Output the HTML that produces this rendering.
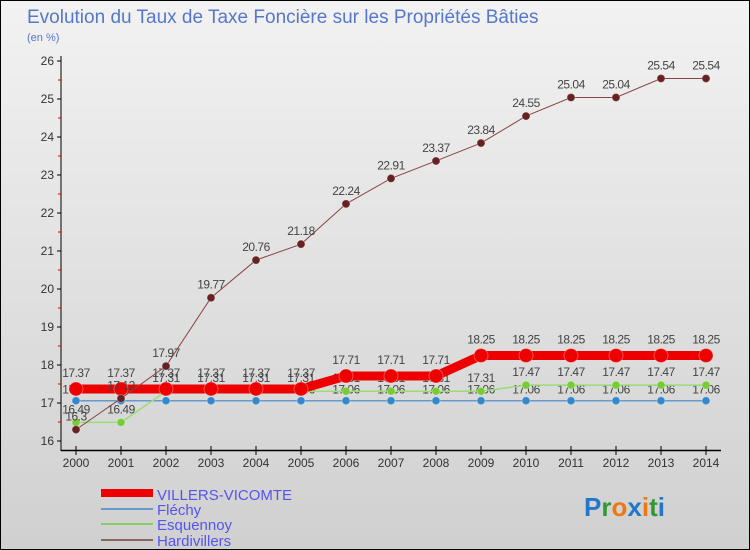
<!DOCTYPE html>
<html><head><meta charset="utf-8"><style>
body{margin:0}
#c{width:748px;height:548px;border:1px solid #000;position:relative;background:linear-gradient(#f2f2f2,#d0d0d0);font-family:"Liberation Sans",sans-serif;overflow:hidden}
svg{position:absolute;left:0;top:0}
</style></head><body>
<div id="c">
<svg id="s" width="750" height="550">
<text x="26" y="22" font-size="19" fill="#5577cc">Evolution du Taux de Taxe Foncière sur les Propriétés Bâties</text>
<text x="26" y="40" font-size="11" fill="#5577cc">(en %)</text>
<g id="ax"></g><g id="series"></g>
<g>
<rect x="100" y="488" width="52" height="8" fill="#e00"/>
<text x="156" y="499" font-size="15" fill="#5555ee">VILLERS-VICOMTE</text>
<rect x="100" y="507" width="52" height="2" fill="#6699cc"/>
<text x="156" y="514" font-size="15" fill="#5555ee">Fléchy</text>
<rect x="100" y="522" width="52" height="2" fill="#88cc66"/>
<text x="156" y="529" font-size="15" fill="#5555ee">Esquennoy</text>
<rect x="100" y="538" width="52" height="2" fill="#886666"/>
<text x="156" y="545" font-size="15" fill="#5555ee">Hardivillers</text>
</g>
<text x="583" y="515" font-size="26" font-weight="bold"><tspan fill="#2277cc">P</tspan><tspan fill="#339933">r</tspan><tspan fill="#ee7711">o</tspan><tspan fill="#2277cc">x</tspan><tspan fill="#ee7711">i</tspan><tspan fill="#339933">t</tspan><tspan fill="#2277cc">i</tspan></text>
</svg></div>
<script>
const years=[2000,2001,2002,2003,2004,2005,2006,2007,2008,2009,2010,2011,2012,2013,2014];
const villers=[17.37,17.37,17.37,17.37,17.37,17.37,17.71,17.71,17.71,18.25,18.25,18.25,18.25,18.25,18.25];
const flechy=[17.06,17.06,17.06,17.06,17.06,17.06,17.06,17.06,17.06,17.06,17.06,17.06,17.06,17.06,17.06];
const esquennoy=[16.49,16.49,17.31,17.31,17.31,17.31,17.31,17.31,17.31,17.31,17.47,17.47,17.47,17.47,17.47];
const hardivillers=[16.3,17.12,17.97,19.77,20.76,21.18,22.24,22.91,23.37,23.84,24.55,25.04,25.04,25.54,25.54];
const yTicks=[16,17,18,19,20,21,22,23,24,25,26];
const NS="http://www.w3.org/2000/svg";
const X=i=>75+i*45, Y=v=>440-(v-16)*38;
function mk(t,a,p){const e=document.createElementNS(NS,t);for(const k in a)e.setAttribute(k,a[k]);p.appendChild(e);return e;}
const ax=document.getElementById('ax');
let l=mk('line',{x1:60,y1:55,x2:60,y2:450,stroke:'#000','stroke-width':1},ax);


l=mk('line',{x1:60,y1:449.5,x2:720,y2:449.5,stroke:'#000','stroke-width':1.5},ax);


yTicks.forEach(v=>{
 mk('line',{x1:56,x2:60,y1:Y(v),y2:Y(v),stroke:'#000'},ax);
 if(v<26)mk('line',{x1:57,x2:60,y1:Y(v+0.5),y2:Y(v+0.5),stroke:'#d00'},ax);
 const t=mk('text',{x:53,y:Y(v)+4,'font-size':12,fill:'#333','text-anchor':'end'},ax);t.textContent=v;
 
 
});
years.forEach((y,i)=>{
 mk('line',{x1:X(i),x2:X(i),y1:445,y2:454,stroke:'#000'},ax);
 const t=mk('text',{x:X(i),y:466,'font-size':12,fill:'#333','text-anchor':'middle'},ax);t.textContent=y;
 
 
});
const sg=document.getElementById('series');
function series(name,data,color,w,r,dot,off){
 const g=mk('g',{},sg);
 
 
 const p=mk('polyline',{points:data.map((v,i)=>X(i)+','+Y(v)).join(' '),fill:'none',stroke:color,'stroke-width':w},g);
 
 
 data.forEach((v,i)=>{
  const c=mk('circle',{cx:X(i),cy:Y(v),r:r,fill:dot,stroke:'#fff','stroke-opacity':0.3},g);
  
  
  const t=mk('text',{x:X(i),y:Y(v)+off,'font-size':12,fill:'#444','text-anchor':'middle','letter-spacing':'-0.5'},g);
  t.textContent=v.toFixed(2).replace(/0$/,'').replace(/\.$/,'');
  
  
 });
}
series('flechy',flechy,'#6699cc',1.5,4,'#3388cc',-7);
series('esquennoy',esquennoy,'#99dd77',1.5,4,'#77cc33',-9);
series('villers',villers,'#ee0000',9,7,'#ee0000',-12);
series('hardivillers',hardivillers,'#884444',1,4,'#662222',-9);
</script>
</body></html>
